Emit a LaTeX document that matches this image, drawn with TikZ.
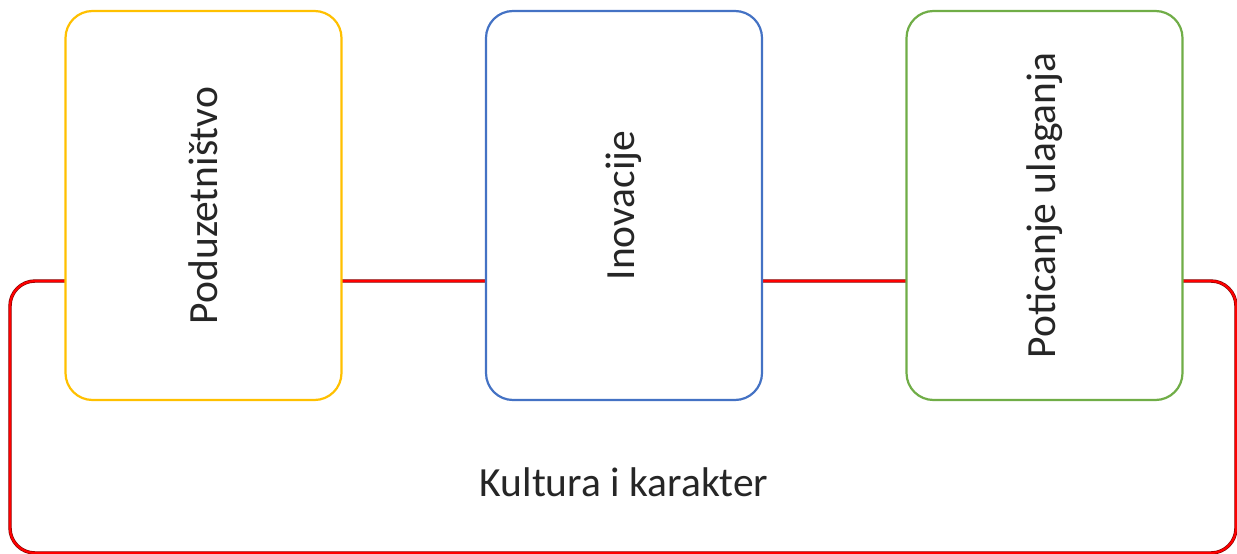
\documentclass[tikz,border=0pt]{standalone}
\usepackage{fontspec}
\setmainfont{Carlito}
\definecolor{cyellow}{HTML}{FFC000}
\definecolor{cblue}{HTML}{4472C4}
\definecolor{cgreen}{HTML}{70AD47}
\definecolor{cred}{HTML}{FF0000}
\definecolor{cdark}{HTML}{7A0000}
\begin{document}
\begin{tikzpicture}[x=1pt,y=-1pt,
  pillar/.style={draw=#1, line width=2.2pt, fill=white, rounded corners=27pt,
    rectangle, minimum width=389pt, minimum height=276pt, rotate=90,
    inner sep=0pt, font=\fontsize{41.5}{48}\selectfont, text=black!85},
  base/.style={rectangle, rounded corners=25pt, inner sep=0pt,
    minimum width=1226pt, minimum height=272pt}]
\useasboundingbox (0,0) rectangle (1237,554);
% base
\node[base, draw=cdark, line width=3.4pt] (baseshadow) at (623,417) {};
\node[base, draw=cred, line width=2.2pt] (basebox) at (623,417) {};
\node[font=\fontsize{41.5}{48}\selectfont, text=black!85] (culture) at (624,482) {Kultura i karakter};
% pillars
\node[pillar=cyellow] (p1) at (203.5,205.5) {Poduzetništvo};
\node[pillar=cblue] (p2) at (624,205.5) {Inovacije};
\node[pillar=cgreen] (p3) at (1044.5,205.5) {Poticanje ulaganja};
\end{tikzpicture}
\end{document}
